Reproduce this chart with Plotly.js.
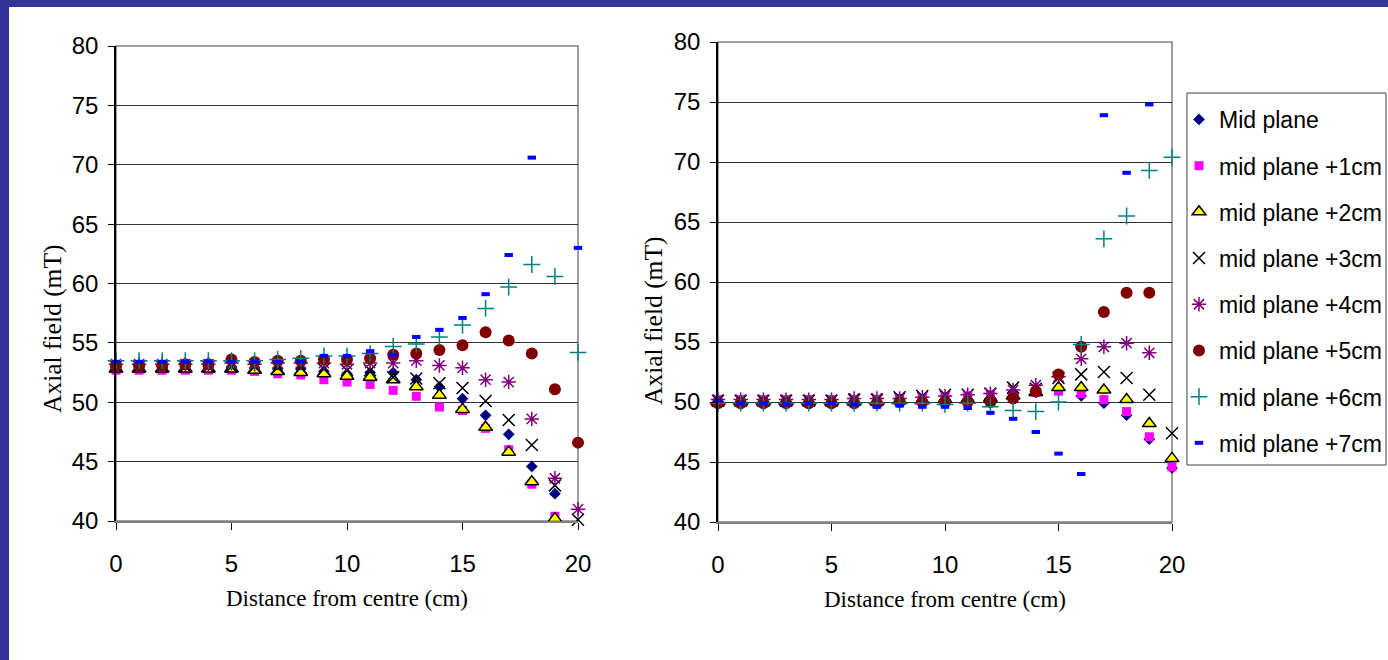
<!DOCTYPE html>
<html>
<head>
<meta charset="utf-8">
<script src="https://cdn.plot.ly/plotly-3.0.1.min.js"></script>
<style>
html,body{margin:0;padding:0;background:#fff;}
#chart{width:1388px;height:660px;}
</style>
</head>
<body>
<div id="chart"></div>
<script>
// Distance from centre (cm)
const distance = [0,1,2,3,4,5,6,7,8,9,10,11,12,13,14,15,16,17,18,19,20];

const seriesNames = ["Mid plane","mid plane +1cm","mid plane +2cm","mid plane +3cm","mid plane +4cm","mid plane +5cm","mid plane +6cm","mid plane +7cm"];

// Left chart: axial field (mT)
const leftMid  = [53.0,53.0,53.0,53.0,53.0,53.0,52.9,52.8,52.8,52.6,52.4,52.5,52.5,51.9,51.3,50.3,48.9,47.3,44.6,42.3,null];
const leftP1   = [52.7,52.7,52.7,52.7,52.7,52.7,52.6,52.4,52.3,51.9,51.7,51.5,51.0,50.5,49.6,49.3,47.8,46.0,43.1,40.4,null];
const leftP2   = [52.8,52.8,52.8,52.8,52.8,52.8,52.7,52.6,52.5,52.4,52.2,52.1,51.9,51.3,50.6,49.4,47.9,45.8,43.3,40.2,null];
const leftP3   = [53.0,53.0,53.0,53.0,53.0,53.0,53.0,52.9,52.9,52.8,52.7,52.7,52.1,52.0,51.6,51.2,50.1,48.5,46.4,43.0,40.1];
const leftP4   = [53.2,53.2,53.2,53.2,53.2,53.3,53.2,53.3,53.3,53.3,53.2,53.3,53.3,53.5,53.1,52.9,51.9,51.7,48.6,43.6,41.0];
const leftP5   = [53.1,53.1,53.1,53.2,53.2,53.6,53.4,53.5,53.5,53.6,53.6,53.7,54.0,54.1,54.4,54.8,55.9,55.2,54.1,51.1,46.6];
const leftP6   = [53.5,53.5,53.5,53.5,53.5,53.5,53.5,53.6,53.7,53.9,53.9,54.1,54.7,54.9,55.5,56.5,57.9,59.7,61.6,60.6,54.2];
const leftP7   = [53.4,53.4,53.4,53.4,53.4,53.4,53.4,53.4,53.4,53.9,53.9,54.3,54.0,55.5,56.1,57.1,59.1,62.4,70.6,null,63.0];

// Right chart: axial field (mT)
const rightMid = [50.0,50.0,50.0,50.0,50.0,50.0,50.0,50.0,50.1,50.1,50.2,50.2,50.3,50.5,50.8,51.0,50.5,49.9,48.9,46.9,44.5];
const rightP1  = [50.2,50.2,50.2,50.2,50.2,50.2,50.2,50.2,50.3,50.3,50.4,50.5,50.6,50.6,50.8,50.9,50.7,50.2,49.2,47.1,44.6];
const rightP2  = [50.0,50.0,50.0,50.0,50.0,50.0,50.0,50.0,50.1,50.1,50.2,50.2,50.3,50.5,50.8,51.2,51.2,51.0,50.2,48.2,45.3];
const rightP3  = [50.1,50.1,50.1,50.1,50.1,50.1,50.2,50.2,50.4,50.5,50.6,50.6,50.7,51.2,51.1,52.0,52.3,52.5,52.0,50.6,47.4];
const rightP4  = [50.2,50.2,50.2,50.2,50.2,50.2,50.3,50.3,50.3,50.4,50.5,50.6,50.7,51.0,51.4,52.1,53.6,54.6,54.9,54.1,null];
const rightP5  = [49.9,49.9,49.9,49.9,49.9,49.9,49.9,49.9,50.0,50.0,50.0,50.0,50.0,50.3,50.9,52.3,54.6,57.5,59.1,59.1,null];
const rightP6  = [49.9,49.9,49.9,49.9,49.9,49.9,49.9,49.9,49.9,49.9,49.8,49.9,49.6,49.3,49.2,50.0,54.8,63.6,65.5,69.3,70.4];
const rightP7  = [50.1,49.9,49.9,49.8,49.9,49.9,49.8,49.6,49.7,49.6,49.6,49.5,49.1,48.6,47.5,45.7,44.0,73.9,69.1,74.8,null];

const yTicks = [40,45,50,55,60,65,70,75,80];
const xTicks = [0,5,10,15,20];
const xTitle = 'Distance from centre (cm)';
const yTitle = 'Axial field (mT)';

const leftSeries  = [leftMid,leftP1,leftP2,leftP3,leftP4,leftP5,leftP6,leftP7];
const rightSeries = [rightMid,rightP1,rightP2,rightP3,rightP4,rightP5,rightP6,rightP7];

const markerStyles = [
  {symbol:'diamond', size:9, color:'#000080', line:{width:0}},
  {symbol:'square', size:9, color:'#FF00FF', line:{width:0}},
  {symbol:'triangle-up', size:12, color:'#FFFF00', line:{width:1.5, color:'#000000'}},
  {symbol:'x-thin-open', size:12, color:'#000000', line:{width:1.5, color:'#000000'}},
  {symbol:'asterisk-open', size:12, color:'#800080', line:{width:1.5, color:'#800080'}},
  {symbol:'circle', size:12, color:'#800000', line:{width:0}},
  {symbol:'cross-thin-open', size:12, color:'#008080', line:{width:1.5, color:'#008080'}},
  {symbol:'line-ew-open', size:6, color:'#0000FF', line:{width:4, color:'#0000FF'}}
];

const traces = [];
seriesNames.forEach((name,i)=>{
  traces.push({
    x: distance, y: leftSeries[i], name: name, type:'scatter', mode:'markers',
    xaxis:'x', yaxis:'y', legendgroup:'g'+i, showlegend:true,
    marker: markerStyles[i], cliponaxis:false
  });
});
seriesNames.forEach((name,i)=>{
  traces.push({
    x: distance, y: rightSeries[i], name: name, type:'scatter', mode:'markers',
    xaxis:'x2', yaxis:'y2', legendgroup:'g'+i, showlegend:false,
    marker: markerStyles[i], cliponaxis:false
  });
});

const W = 1388, H = 660;
const tickFont = {family:'"Liberation Sans",Arial,sans-serif', size:24, color:'#000'};
const titleFont = {family:'"Liberation Serif","Times New Roman",serif', size:23, color:'#000'};
const yTitleFont = {family:'"Liberation Serif","Times New Roman",serif', size:25.5, color:'#000'};

function xAxis(dom, anchor){
  return {
    domain: dom, anchor: anchor, range:[0,20], tickmode:'array', tickvals:xTicks,
    showgrid:false, zeroline:false, showline:true, linecolor:'#808080', linewidth:1.5,
    ticks:'outside', ticklen:7, tickcolor:'#000', tickwidth:1,
    tickfont: tickFont, ticklabelstandoff: 13,
    title:{text:xTitle, font:titleFont, standoff:14},
    fixedrange:true
  };
}
function yAxis(dom, anchor){
  return {
    domain: dom, anchor: anchor, range:[40,80], tickmode:'array', tickvals:yTicks,
    showgrid:true, gridcolor:'#333', gridwidth:1, zeroline:false,
    showline:true, linecolor:'#000', linewidth:1.5,
    ticks:'outside', ticklen:6, tickcolor:'#000', tickwidth:1,
    tickfont: tickFont, ticklabelstandoff: 5,
    fixedrange:true
  };
}

const layout = {
  width:W, height:H,
  margin:{l:0,r:0,t:0,b:0},
  paper_bgcolor:'#fff', plot_bgcolor:'#fff',
  showlegend:true,
  xaxis: xAxis([116/W, 578/W], 'y'),
  yaxis: yAxis([(H-521)/H, (H-46)/H], 'x'),
  xaxis2: xAxis([718/W, 1172/W], 'y2'),
  yaxis2: yAxis([(H-522)/H, (H-42)/H], 'x2'),
  legend:{
    x: 1179/W, y: (H-98)/H, xanchor:'left', yanchor:'top',
    bgcolor:'rgba(0,0,0,0)', borderwidth:0,
    font:{family:'"Liberation Sans",Arial,sans-serif', size:23, color:'#000'},
    tracegroupgap: 13.3, itemclick:false, itemdoubleclick:false
  },
  annotations:[
    {text:yTitle, xref:'paper', yref:'paper', x:52/W, y:(H-329)/H, xanchor:'center', yanchor:'middle', textangle:-90, showarrow:false, font:yTitleFont},
    {text:yTitle, xref:'paper', yref:'paper', x:653/W, y:(H-321)/H, xanchor:'center', yanchor:'middle', textangle:-90, showarrow:false, font:yTitleFont}
  ],
  shapes:[
    // plot area frames (top and right borders)
    {type:'rect', xref:'x domain', yref:'y domain', x0:0, x1:1, y0:0, y1:1, line:{color:'#808080', width:1.5}, layer:'below'},
    {type:'rect', xref:'x2 domain', yref:'y2 domain', x0:0, x1:1, y0:0, y1:1, line:{color:'#808080', width:1.5}, layer:'below'},
    // legend box
    {type:'rect', xref:'paper', yref:'paper', x0:1187/W, x1:1386/W, y0:(H-465)/H, y1:(H-93)/H, line:{color:'#404040', width:1}, fillcolor:'rgba(0,0,0,0)'},
    // slide frame bands
    {type:'rect', xref:'paper', yref:'paper', x0:0, x1:1, y0:(H-7)/H, y1:1, line:{width:0}, fillcolor:'#333399'},
    {type:'rect', xref:'paper', yref:'paper', x0:0, x1:9/W, y0:0, y1:1, line:{width:0}, fillcolor:'#333399'}
  ]
};

Plotly.newPlot('chart', traces, layout, {displayModeBar:false, staticPlot:false});
</script>
</body>
</html>
